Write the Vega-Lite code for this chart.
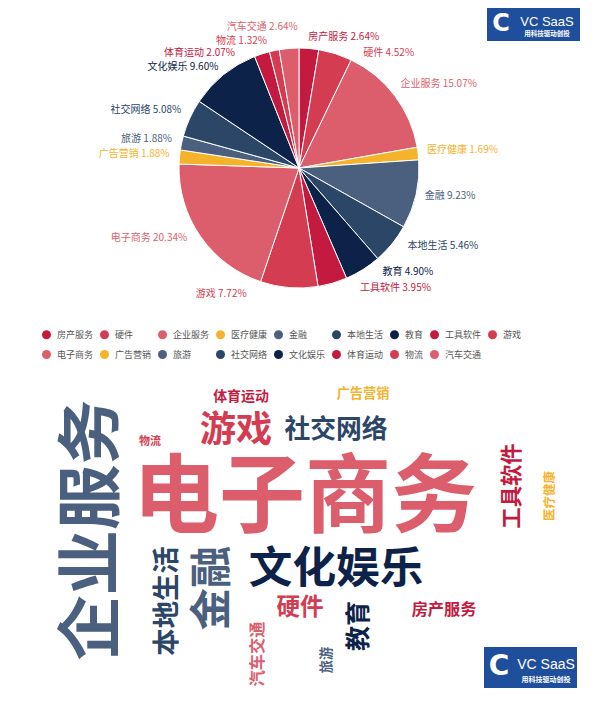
{
  "$schema": "https://vega.github.io/schema/vega-lite/v6.json",
  "padding": 0,
  "spacing": 0,
  "bounds": "flush",
  "background": "white",
  "config": {"view": {"stroke": null}, "font": "Noto Sans CJK SC"},
  "datasets": {
    "cats": [
      {"name": "房产服务", "pct": 2.64, "cx": 444, "cy": 610},
      {"name": "硬件", "pct": 4.52, "cx": 300, "cy": 608},
      {"name": "企业服务", "pct": 15.07, "cx": 93, "cy": 530},
      {"name": "医疗健康", "pct": 1.69, "cx": 550, "cy": 496},
      {"name": "金融", "pct": 9.23, "cx": 213, "cy": 588},
      {"name": "本地生活", "pct": 5.46, "cx": 168, "cy": 601},
      {"name": "教育", "pct": 4.90, "cx": 359, "cy": 626},
      {"name": "工具软件", "pct": 3.95, "cx": 513, "cy": 486},
      {"name": "游戏", "pct": 7.72, "cx": 236, "cy": 431},
      {"name": "电子商务", "pct": 20.34, "cx": 305, "cy": 500},
      {"name": "广告营销", "pct": 1.88, "cx": 363, "cy": 394},
      {"name": "旅游", "pct": 1.88, "cx": 327, "cy": 660},
      {"name": "社交网络", "pct": 5.08, "cx": 336, "cy": 430},
      {"name": "文化娱乐", "pct": 9.60, "cx": 336, "cy": 570},
      {"name": "体育运动", "pct": 2.07, "cx": 241, "cy": 397},
      {"name": "物流", "pct": 1.32, "cx": 150, "cy": 442},
      {"name": "汽车交通", "pct": 2.64, "cx": 258, "cy": 654}
    ]
  },
  "vconcat": [
    {
      "width": 598,
      "height": 336,
      "layer": [
        {
          "data": {"name": "cats"},
          "transform": [
            {"window": [{"op": "row_number", "as": "i"}]},
            {"calculate": "datum.name + ' ' + format(datum.pct, '.2f') + '%'", "as": "label"}
          ],
          "encoding": {
            "theta": {"field": "pct", "type": "quantitative", "stack": true},
            "order": {"field": "i", "type": "quantitative", "sort": "ascending"},
            "color": {
              "field": "name", "type": "nominal",
              "scale": {
                "domain": ["房产服务","硬件","企业服务","医疗健康","金融","本地生活","教育","工具软件","游戏","电子商务","广告营销","旅游","社交网络","文化娱乐","体育运动","物流","汽车交通"],
                "range": ["#c41a40","#d43c51","#dc5e6d","#f5b22b","#4b607f","#2c4667","#0d2248","#c41a40","#d43c51","#dc5e6d","#f5b22b","#4b607f","#2c4667","#0d2248","#c41a40","#d43c51","#dc5e6d"]
              },
              "legend": {
                "orient": "none", "legendX": 42, "legendY": 330,
                "direction": "horizontal", "columns": 9, "gridAlign": "each",
                "symbolType": "circle", "symbolSize": 81, "symbolStrokeWidth": 0,
                "labelFontSize": 9, "labelFont": "Noto Sans CJK SC", "labelColor": "#555555",
                "labelOffset": 6, "columnPadding": 6, "rowPadding": 10, "title": null
              }
            }
          },
          "layer": [
            {"mark": {"type": "arc", "outerRadius": 120, "stroke": "#ffffff", "strokeWidth": 1}},
            {"mark": {"type": "text", "radius": 136, "align": "left", "baseline": "middle", "dx": -7, "dy": -2, "fontSize": 10},
             "encoding": {"text": {"condition": {"test": "indexof(['企业服务','医疗健康','金融'], datum.name) >= 0", "field": "label"}, "value": ""}}},
            {"mark": {"type": "text", "radius": 136, "align": "left", "baseline": "middle", "dx": 3, "dy": -8, "fontSize": 10},
             "encoding": {"text": {"condition": {"test": "datum.name === '本地生活'", "field": "label"}, "value": ""}}},
            {"mark": {"type": "text", "radius": 136, "align": "left", "baseline": "middle", "dx": 11, "dy": -11, "fontSize": 10},
             "encoding": {"text": {"condition": {"test": "datum.name === '教育'", "field": "label"}, "value": ""}}},
            {"mark": {"type": "text", "radius": 136, "align": "left", "baseline": "middle", "dx": 23, "dy": -11, "fontSize": 10},
             "encoding": {"text": {"condition": {"test": "datum.name === '工具软件'", "field": "label"}, "value": ""}}},
            {"mark": {"type": "text", "radius": 136, "align": "left", "baseline": "middle", "dx": 23, "dy": 15, "fontSize": 10},
             "encoding": {"text": {"condition": {"test": "datum.name === '硬件'", "field": "label"}, "value": ""}}},
            {"mark": {"type": "text", "radius": 136, "align": "left", "baseline": "middle", "dx": -2, "dy": 5, "fontSize": 10},
             "encoding": {"text": {"condition": {"test": "datum.name === '房产服务'", "field": "label"}, "value": ""}}},
            {"mark": {"type": "text", "radius": 136, "align": "right", "baseline": "middle", "dx": 6, "dy": -1, "fontSize": 10},
             "encoding": {"text": {"condition": {"test": "indexof(['社交网络','旅游','广告营销'], datum.name) >= 0", "field": "label"}, "value": ""}}},
            {"mark": {"type": "text", "radius": 136, "align": "right", "baseline": "middle", "dx": 5, "dy": 5, "fontSize": 10},
             "encoding": {"text": {"condition": {"test": "datum.name === '文化娱乐'", "field": "label"}, "value": ""}}},
            {"mark": {"type": "text", "radius": 136, "align": "right", "baseline": "middle", "dx": 0, "dy": -7, "fontSize": 10},
             "encoding": {"text": {"condition": {"test": "datum.name === '电子商务'", "field": "label"}, "value": ""}}},
            {"mark": {"type": "text", "radius": 136, "align": "right", "baseline": "middle", "dx": -41, "dy": -10, "fontSize": 10},
             "encoding": {"text": {"condition": {"test": "datum.name === '游戏'", "field": "label"}, "value": ""}}},
            {"mark": {"type": "text", "radius": 136, "align": "right", "baseline": "middle", "dx": -22, "dy": 14, "fontSize": 10},
             "encoding": {"text": {"condition": {"test": "datum.name === '体育运动'", "field": "label"}, "value": ""}}},
            {"mark": {"type": "text", "radius": 136, "align": "right", "baseline": "middle", "dx": -4, "dy": 6, "fontSize": 10},
             "encoding": {"text": {"condition": {"test": "datum.name === '物流'", "field": "label"}, "value": ""}}},
            {"mark": {"type": "text", "radius": 136, "align": "right", "baseline": "middle", "dx": 10, "dy": -5, "fontSize": 10},
             "encoding": {"text": {"condition": {"test": "datum.name === '汽车交通'", "field": "label"}, "value": ""}}}
          ]
        },
        {
          "data": {"values": [{"x": 487, "x2": 580, "y": 8, "y2": 41}]},
          "mark": {"type": "rect", "color": "#1f4f9c"},
          "encoding": {
            "x": {"field": "x", "type": "quantitative", "scale": {"domain": [0, 598], "nice": false, "zero": false}, "axis": null},
            "x2": {"field": "x2"},
            "y": {"field": "y", "type": "quantitative", "scale": {"domain": [0, 336], "nice": false, "zero": false, "reverse": true}, "axis": null},
            "y2": {"field": "y2"}
          }
        },
        {
          "data": {"values": [{"x": 547, "y": 22, "t": "VC SaaS"}]},
          "mark": {"type": "text", "color": "#ffffff", "fontSize": 13, "font": "Liberation Sans", "align": "center", "baseline": "middle"},
          "encoding": {
            "x": {"field": "x", "type": "quantitative", "scale": {"domain": [0, 598], "nice": false, "zero": false}, "axis": null},
            "y": {"field": "y", "type": "quantitative", "scale": {"domain": [0, 336], "nice": false, "zero": false, "reverse": true}, "axis": null},
            "text": {"field": "t"}
          }
        },
        {
          "data": {"values": [{"x": 547, "y": 34, "t": "用科技驱动创投"}]},
          "mark": {"type": "text", "color": "#ffffff", "fontSize": 6.5, "fontWeight": "bold", "align": "center", "baseline": "middle"},
          "encoding": {
            "x": {"field": "x", "type": "quantitative", "scale": {"domain": [0, 598], "nice": false, "zero": false}, "axis": null},
            "y": {"field": "y", "type": "quantitative", "scale": {"domain": [0, 336], "nice": false, "zero": false, "reverse": true}, "axis": null},
            "text": {"field": "t"}
          }
        },
        {
          "data": {"values": [{"x": 501, "y": 24, "t": "C"}]},
          "mark": {"type": "text", "color": "#ffffff", "fontSize": 24, "fontWeight": "bold", "font": "DejaVu Sans", "align": "center", "baseline": "middle"},
          "encoding": {
            "x": {"field": "x", "type": "quantitative", "scale": {"domain": [0, 598], "nice": false, "zero": false}, "axis": null},
            "y": {"field": "y", "type": "quantitative", "scale": {"domain": [0, 336], "nice": false, "zero": false, "reverse": true}, "axis": null},
            "text": {"field": "t"}
          }
        }
      ]
    },
    {
      "width": 600,
      "height": 371,
      "layer": [
        {
          "data": {"name": "cats"},
          "transform": [{"filter": {"not": {"field": "name", "oneOf": ["企业服务","金融","本地生活","教育","工具软件","汽车交通","旅游","医疗健康"]}}}],
          "mark": {"type": "text", "fontWeight": "bold", "font": "Noto Sans CJK SC", "align": "center", "baseline": "middle"},
          "encoding": {
            "x": {"field": "cx", "type": "quantitative", "scale": {"domain": [0, 600], "nice": false, "zero": false}, "axis": null},
            "y": {"field": "cy", "type": "quantitative", "scale": {"domain": [336, 707], "nice": false, "zero": false, "reverse": true}, "axis": null},
            "text": {"field": "name"},
            "color": {"field": "name", "type": "nominal"},
            "size": {"field": "pct", "type": "quantitative", "scale": {"domain": [1.32, 20.34], "range": [11, 86], "zero": false}, "legend": null}
          }
        },
        {
          "data": {"name": "cats"},
          "transform": [{"filter": {"field": "name", "oneOf": ["企业服务","金融","本地生活","教育","工具软件","汽车交通","旅游","医疗健康"]}}],
          "mark": {"type": "text", "fontWeight": "bold", "font": "Noto Sans CJK SC", "align": "center", "baseline": "middle", "angle": 270},
          "encoding": {
            "x": {"field": "cx", "type": "quantitative", "scale": {"domain": [0, 600], "nice": false, "zero": false}, "axis": null},
            "y": {"field": "cy", "type": "quantitative", "scale": {"domain": [336, 707], "nice": false, "zero": false, "reverse": true}, "axis": null},
            "text": {"field": "name"},
            "color": {"field": "name", "type": "nominal", "condition": {"test": "datum.name === '企业服务'", "value": "#4b607f"}},
            "size": {"field": "pct", "type": "quantitative", "scale": {"domain": [1.32, 20.34], "range": [11, 86], "zero": false}, "legend": null}
          }
        },
        {
          "data": {"values": [{"x": 484, "x2": 577, "y": 647, "y2": 688}]},
          "mark": {"type": "rect", "color": "#1f4f9c"},
          "encoding": {
            "x": {"field": "x", "type": "quantitative", "scale": {"domain": [0, 600], "nice": false, "zero": false}, "axis": null},
            "x2": {"field": "x2"},
            "y": {"field": "y", "type": "quantitative", "scale": {"domain": [336, 707], "nice": false, "zero": false, "reverse": true}, "axis": null},
            "y2": {"field": "y2"}
          }
        },
        {
          "data": {"values": [{"x": 546, "y": 665, "t": "VC SaaS"}]},
          "mark": {"type": "text", "color": "#ffffff", "fontSize": 14, "font": "Liberation Sans", "align": "center", "baseline": "middle"},
          "encoding": {
            "x": {"field": "x", "type": "quantitative", "scale": {"domain": [0, 600], "nice": false, "zero": false}, "axis": null},
            "y": {"field": "y", "type": "quantitative", "scale": {"domain": [336, 707], "nice": false, "zero": false, "reverse": true}, "axis": null},
            "text": {"field": "t"}
          }
        },
        {
          "data": {"values": [{"x": 546, "y": 680, "t": "用科技驱动创投"}]},
          "mark": {"type": "text", "color": "#ffffff", "fontSize": 7, "fontWeight": "bold", "align": "center", "baseline": "middle"},
          "encoding": {
            "x": {"field": "x", "type": "quantitative", "scale": {"domain": [0, 600], "nice": false, "zero": false}, "axis": null},
            "y": {"field": "y", "type": "quantitative", "scale": {"domain": [336, 707], "nice": false, "zero": false, "reverse": true}, "axis": null},
            "text": {"field": "t"}
          }
        },
        {
          "data": {"values": [{"x": 499, "y": 667, "t": "C"}]},
          "mark": {"type": "text", "color": "#ffffff", "fontSize": 28, "fontWeight": "bold", "font": "DejaVu Sans", "align": "center", "baseline": "middle"},
          "encoding": {
            "x": {"field": "x", "type": "quantitative", "scale": {"domain": [0, 600], "nice": false, "zero": false}, "axis": null},
            "y": {"field": "y", "type": "quantitative", "scale": {"domain": [336, 707], "nice": false, "zero": false, "reverse": true}, "axis": null},
            "text": {"field": "t"}
          }
        }
      ]
    }
  ]
}
